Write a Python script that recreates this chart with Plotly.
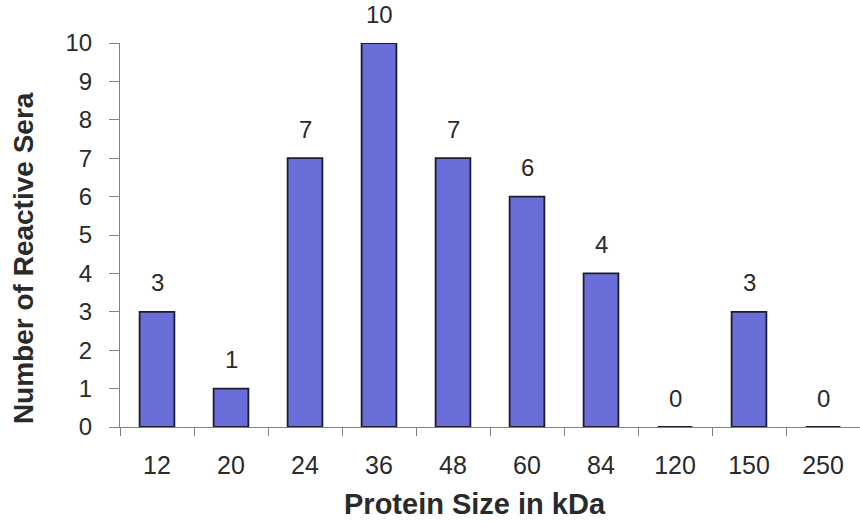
import plotly.graph_objects as go

sizes_kda = ["12", "20", "24", "36", "48", "60", "84", "120", "150", "250"]
reactive_sera = [3, 1, 7, 10, 7, 6, 4, 0, 3, 0]
y_ticks = list(range(0, 11))

FONT = "Liberation Sans, Arial, sans-serif"
INK = "#2a2a2a"
AXIS = "#808080"

fig = go.Figure(
    go.Bar(
        x=sizes_kda,
        y=reactive_sera,
        marker=dict(color="#6a6ed8", line=dict(color="#1c1c30", width=1.8)),
    )
)

# value labels above each bar (x given as the category position)
for pos, val in enumerate(reactive_sera):
    fig.add_annotation(
        x=pos, y=val, xref="x", yref="y",
        text=str(val), showarrow=False,
        yanchor="middle", yshift=29,
        font=dict(family=FONT, size=24, color=INK),
    )

# axis titles
fig.add_annotation(
    x=0.48, y=-0.20, xref="paper", yref="paper",
    text="<b>Protein Size in kDa</b>", showarrow=False,
    xanchor="center", yanchor="middle",
    font=dict(family=FONT, size=29, color=INK),
)
fig.add_annotation(
    x=-0.131, y=0.44, xref="paper", yref="paper",
    text="<b>Number of Reactive Sera</b>", showarrow=False, textangle=-90,
    xanchor="center", yanchor="middle",
    font=dict(family=FONT, size=28, color=INK),
)

fig.update_layout(
    width=860,
    height=521,
    margin=dict(l=120, r=0, t=43, b=94),
    plot_bgcolor="white",
    paper_bgcolor="white",
    bargap=0.53,
    showlegend=False,
    font=dict(family=FONT, color=INK),
)

fig.update_xaxes(
    type="category",
    range=[-0.5, 9.5],
    tickson="boundaries",
    ticks="outside",
    ticklen=8,
    tickcolor=AXIS,
    showline=True,
    linecolor=AXIS,
    linewidth=1.2,
    tickfont=dict(size=25),
    ticklabelstandoff=16,
)

fig.update_yaxes(
    range=[0, 10],
    tickvals=y_ticks,
    ticks="outside",
    ticklen=10,
    tickcolor=AXIS,
    showline=True,
    linecolor=AXIS,
    linewidth=1.2,
    showgrid=False,
    zeroline=False,
    tickfont=dict(size=24),
    ticklabelstandoff=12,
)

fig.write_html("out.html")
